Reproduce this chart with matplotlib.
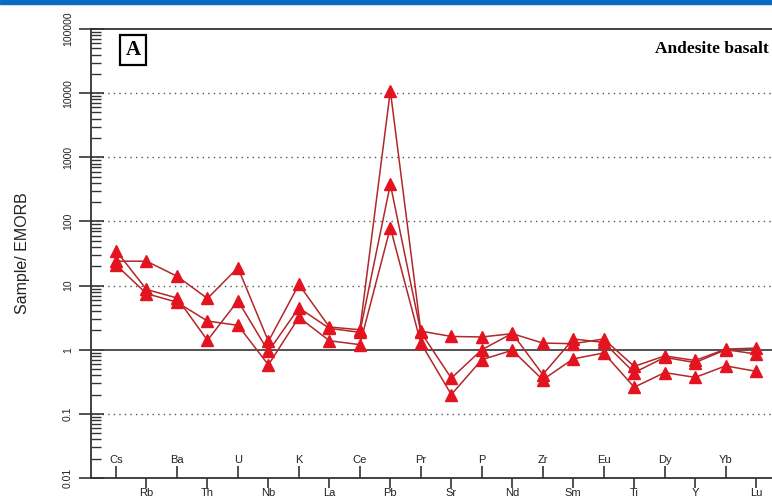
import matplotlib
matplotlib.use("Agg")
import matplotlib.pyplot as plt
from matplotlib.patches import Rectangle
from matplotlib.transforms import blended_transform_factory
import numpy as np

# Trace elements, ordered as in the spider diagram
elements = ["Cs", "Rb", "Ba", "Th", "U", "Nb", "K", "La", "Ce", "Pb", "Pr",
            "Sr", "P", "Nd", "Zr", "Sm", "Eu", "Ti", "Dy", "Y", "Yb", "Lu"]

# Sample / E-MORB normalised concentrations
sample_1 = [24, 24, 14, 6.3, 19, 1.35, 10.4, 2.26, 2.05, 10900, 1.95,
            1.61, 1.58, 1.78, 1.27, 1.24, 1.47, 0.55, 0.80, 0.68, 1.02, 1.06]
sample_2 = [35, 8.7, 6.4, 1.4, 5.8, 0.94, 4.5, 2.15, 1.87, 380, 1.87,
            0.36, 1.0, 1.8, 0.41, 1.47, 1.3, 0.44, 0.76, 0.63, 1.0, 0.86]
sample_3 = [21, 7.5, 5.5, 2.8, 2.4, 0.58, 3.2, 1.38, 1.2, 80, 1.27,
            0.2, 0.7, 0.98, 0.34, 0.72, 0.89, 0.26, 0.44, 0.37, 0.56, 0.46]

y_ticks = [0.01, 0.1, 1, 10, 100, 1000, 10000, 100000]
y_tick_labels = ["0.01", "0.1", "1", "10", "100", "1000", "10000", "100000"]

W, H = 772, 497
fig = plt.figure(figsize=(W / 100, H / 100), dpi=100)
ax = fig.add_axes([91 / W, 1 - 478 / H, 1 - 91 / W, (478 - 29) / H])

x = np.arange(len(elements))
line_col = "#b3262a"
mark_col = "#e3141f"
for s in (sample_1, sample_2, sample_3):
    ax.plot(x, s, color=line_col, lw=1.1, zorder=3)
    ax.plot(x, s, ls="none", marker="^", ms=8.5, mfc=mark_col,
            mec=mark_col, zorder=4)

ax.set_yscale("log")
ax.set_ylim(0.01, 100000)
ax.set_xlim(-0.82, 21.52)

# Decade guides: dotted, with a solid reference line at 1
for v in (0.1, 10, 100, 1000, 10000):
    ax.axhline(v, color="#555555", lw=1.0, ls=(0, (1, 3)), zorder=1)
ax.axhline(1, color="#444444", lw=1.3, zorder=2)

ax.spines["right"].set_visible(False)
for side in ("left", "top", "bottom"):
    ax.spines[side].set_color("#333333")
    ax.spines[side].set_linewidth(1.3)

ax.set_yticks(y_ticks)
ax.set_yticklabels(y_tick_labels, rotation=90, va="center",
                   fontsize=7.5, family="Liberation Sans", color="#222222")
ax.yaxis.set_minor_locator(matplotlib.ticker.LogLocator(base=10, subs=np.arange(2, 10)))
ax.yaxis.set_minor_formatter(matplotlib.ticker.NullFormatter())
ax.tick_params(axis="y", which="major", direction="inout", length=18,
               width=1.2, color="#333333", pad=4)
ax.tick_params(axis="y", which="minor", direction="in", length=7,
               width=1.0, color="#333333")

# Element labels alternate above and below the bottom axis
lower_idx = x[1::2]
upper_idx = x[0::2]
ax.set_xticks(lower_idx)
ax.set_xticklabels([elements[i] for i in lower_idx], fontsize=8,
                   family="Liberation Sans", color="#222222")
ax.set_xticks(upper_idx, minor=True)
ax.tick_params(axis="x", which="major", direction="out", length=7,
               width=1.2, color="#333333", pad=0)
ax.tick_params(axis="x", which="minor", direction="in", length=9,
               width=1.2, color="#333333", labelbottom=False)
trans = blended_transform_factory(ax.transData, ax.transAxes)
for i in upper_idx:
    ax.text(i, 0.03, elements[i], transform=trans, ha="center", va="bottom",
            fontsize=8, family="Liberation Sans", color="#222222")

ax.set_ylabel("Sample/ EMORB", fontsize=11.5, family="Liberation Sans",
              color="#222222", labelpad=24)

# Panel tag and rock type
fig.text(133 / W, 1 - 50 / H, "A", fontsize=15, fontweight="bold",
         family="Liberation Serif", ha="center", va="center",
         bbox=dict(boxstyle="square,pad=0.25", fc="white", ec="black", lw=1.6))
fig.text(769 / W, 1 - 49 / H, "Andesite basalt", fontsize=12.5,
         fontweight="bold", family="Liberation Serif", ha="right", va="center")

# Blue band along the top edge
fig.patches.append(Rectangle((0, 1 - 3.5 / H), 1, 3.5 / H, transform=fig.transFigure,
                             color="#0a6cc0", zorder=10))

fig.savefig("out.png", dpi=100)
